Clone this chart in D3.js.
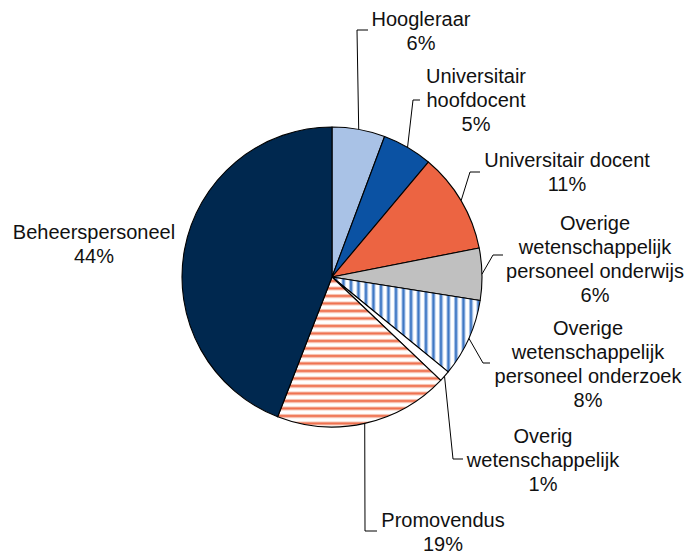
<!DOCTYPE html>
<html>
<head>
<meta charset="utf-8">
<script src="https://cdn.jsdelivr.net/npm/d3@7"></script>
<style>
  html, body { margin: 0; padding: 0; background: #fff; }
  svg { display: block; }
  text { font-family: "Liberation Sans", Arial, Helvetica, sans-serif; fill: #111; }
</style>
</head>
<body>
<svg id="chart" width="688" height="554"></svg>
<script>
// Staff composition by category (share of total, %)
const categories = [
  ["Hoogleraar"],
  ["Universitair", "hoofdocent"],
  ["Universitair docent"],
  ["Overige", "wetenschappelijk", "personeel onderwijs"],
  ["Overige", "wetenschappelijk", "personeel onderzoek"],
  ["Overig", "wetenschappelijk"],
  ["Promovendus"],
  ["Beheerspersoneel"]
];
const values = [5.7, 5.4, 10.8, 5.6, 8.4, 1.2, 18.8, 44.1];
const fills = ["#a9c2e6", "#0b52a3", "#ec6442", "#c0c0c0", "url(#vstripe)", "#ffffff", "url(#hstripe)", "#00284f"];

// Label placement: text centre x, first baseline y, optional leader elbow (x, y) and end x
const labelLayout = [
  { x: 421, y: 26,  elbow: [357, 30],  end: 368 },
  { x: 476, y: 83,  elbow: [413, 100], end: 420 },
  { x: 567, y: 167, elbow: [470, 172], end: 480 },
  { x: 595, y: 230, elbow: [493, 255], end: 503 },
  { x: 588, y: 335, elbow: [483, 363], end: 490 },
  { x: 543, y: 443, elbow: [453, 459], end: 463 },
  { x: 443, y: 527, elbow: [365, 531], end: 377 },
  { x: 94,  y: 239, elbow: null }
];

const svg = d3.select("#chart");
const cx = 332, cy = 277, r = 150, lineH = 24;

const defs = svg.append("defs");
const vp = defs.append("pattern").attr("id", "vstripe")
  .attr("patternUnits", "userSpaceOnUse").attr("width", 7.5).attr("height", 10);
vp.append("rect").attr("width", 7.5).attr("height", 10).attr("fill", "#fff");
vp.append("rect").attr("x", 2).attr("width", 4).attr("height", 10).attr("fill", "#a9c4ea");
vp.append("rect").attr("x", 3).attr("width", 2).attr("height", 10).attr("fill", "#3a74c2");

const hp = defs.append("pattern").attr("id", "hstripe")
  .attr("patternUnits", "userSpaceOnUse").attr("width", 10).attr("height", 7.5);
hp.append("rect").attr("width", 10).attr("height", 7.5).attr("fill", "#fff");
hp.append("rect").attr("y", 2).attr("width", 10).attr("height", 4).attr("fill", "#f8c8b8");
hp.append("rect").attr("y", 3).attr("width", 10).attr("height", 2).attr("fill", "#ef6e4c");

const total = d3.sum(values);
const pie = d3.pie().sort(null).value(d => d);
const arcs = pie(values);
const arc = d3.arc().innerRadius(0).outerRadius(r);

const g = svg.append("g").attr("transform", `translate(${cx},${cy})`);
g.selectAll("path.slice").data(arcs).join("path")
  .attr("class", "slice")
  .attr("d", arc)
  .attr("fill", (d, i) => fills[i])
  .attr("stroke", "#000")
  .attr("stroke-width", 1.1)
  .attr("stroke-linejoin", "round");

// Leader lines from the slice edge to the label
arcs.forEach((d, i) => {
  const L = labelLayout[i];
  if (!L.elbow) return;
  const a = (d.startAngle + d.endAngle) / 2;
  const sx = cx + r * Math.sin(a), sy = cy - r * Math.cos(a);
  svg.append("polyline")
    .attr("points", `${sx},${sy} ${L.elbow[0]},${L.elbow[1]} ${L.end},${L.elbow[1]}`)
    .attr("fill", "none").attr("stroke", "#000").attr("stroke-width", 1);
});

// Labels: category name lines plus rounded percentage
arcs.forEach((d, i) => {
  const L = labelLayout[i];
  const lines = categories[i].concat([Math.round(d.value / total * 100) + "%"]);
  const t = svg.append("text")
    .attr("text-anchor", "middle")
    .attr("font-size", "20px");
  lines.forEach((s, k) => {
    t.append("tspan").attr("x", L.x).attr("y", L.y + k * lineH).text(s);
  });
});
</script>
</body>
</html>
